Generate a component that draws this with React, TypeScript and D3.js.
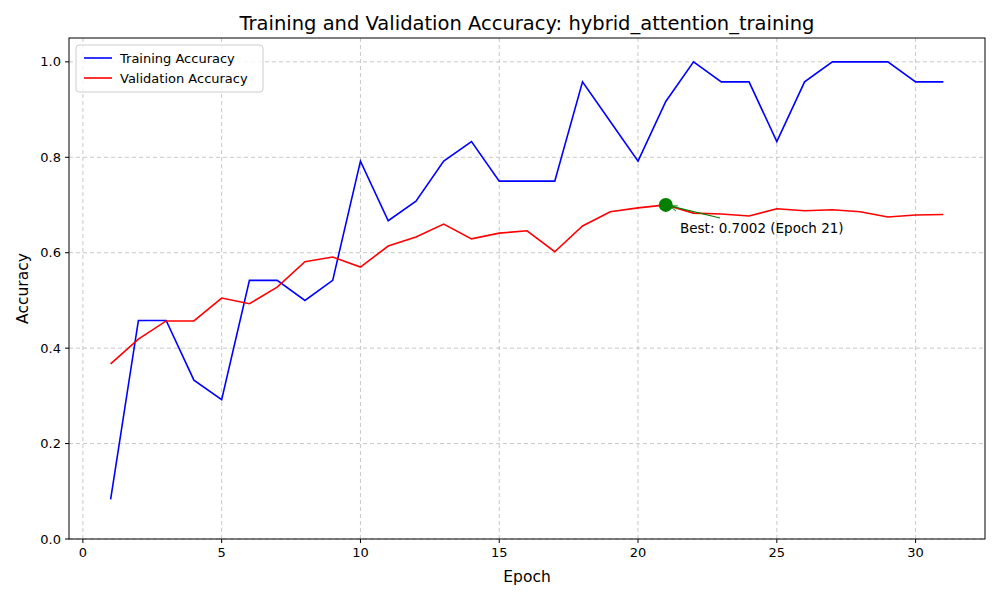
import React from "react";
import * as d3 from "d3";

const epochs = d3.range(1, 32);
const trainAcc = [0.083, 0.458, 0.458, 0.333, 0.292, 0.542, 0.542, 0.5, 0.542, 0.792, 0.667, 0.708, 0.792, 0.833, 0.75, 0.75, 0.75, 0.958, 0.875, 0.792, 0.917, 1.0, 0.958, 0.958, 0.833, 0.958, 1.0, 1.0, 1.0, 0.958, 0.958];
const valAcc = [0.367, 0.419, 0.457, 0.457, 0.505, 0.493, 0.528, 0.581, 0.591, 0.57, 0.614, 0.633, 0.66, 0.629, 0.641, 0.646, 0.602, 0.656, 0.686, 0.694, 0.7002, 0.683, 0.681, 0.677, 0.692, 0.688, 0.69, 0.686, 0.675, 0.679, 0.68];
const xTicks = [0, 5, 10, 15, 20, 25, 30];
const yTicks = [0, 0.2, 0.4, 0.6, 0.8, 1.0];

export default function App() {
  const W = 1000, H = 600;
  const m = { l: 69, r: 15, t: 38, b: 61 };
  const x = d3.scaleLinear().domain([-0.5, 32.5]).range([m.l, W - m.r]);
  const y = d3.scaleLinear().domain([0, 1.05]).range([H - m.b, m.t]);
  const line = (vals: number[]) =>
    d3.line<number>().x((_, i) => x(epochs[i])).y((d) => y(d))(vals) || "";
  const bestI = valAcc.indexOf(d3.max(valAcc)!);
  const bx = x(epochs[bestI]), by = y(valAcc[bestI]);
  const font = "DejaVu Sans, sans-serif";
  return (
    <svg width={W} height={H} style={{ position: "absolute", left: 0, top: 0, fontFamily: font }}>
      <rect width={W} height={H} fill="#fff" />
      {xTicks.map((t) => (
        <g key={"x" + t}>
          <line x1={x(t)} x2={x(t)} y1={m.t} y2={H - m.b} stroke="#b0b0b0" strokeDasharray="4,3" strokeOpacity={0.7} />
          <line x1={x(t)} x2={x(t)} y1={H - m.b} y2={H - m.b + 4} stroke="#000" />
          <text x={x(t)} y={H - m.b + 18} textAnchor="middle" fontSize={13}>{t}</text>
        </g>
      ))}
      {yTicks.map((t) => (
        <g key={"y" + t}>
          <line x1={m.l} x2={W - m.r} y1={y(t)} y2={y(t)} stroke="#b0b0b0" strokeDasharray="4,3" strokeOpacity={0.7} />
          <line x1={m.l - 4} x2={m.l} y1={y(t)} y2={y(t)} stroke="#000" />
          <text x={m.l - 8} y={y(t) + 4.5} textAnchor="end" fontSize={13}>{t.toFixed(1)}</text>
        </g>
      ))}
      <path d={line(trainAcc)} fill="none" stroke="#0000ff" strokeWidth={1.6} />
      <path d={line(valAcc)} fill="none" stroke="#ff0000" strokeWidth={1.6} />
      <circle cx={bx} cy={by} r={7} fill="green" />
      <line x1={720} y1={218} x2={bx + 4} y2={by + 1} stroke="green" strokeWidth={1.2} />
      <path d={`M${bx + 4},${by + 1} l8,0 M${bx + 4},${by + 1} l6,5`} stroke="green" strokeWidth={1} fill="none" />
      <text x={680} y={233} fontSize={13.5}>Best: {valAcc[bestI].toFixed(4)} (Epoch {epochs[bestI]})</text>
      <rect x={m.l} y={m.t} width={W - m.l - m.r} height={H - m.t - m.b} fill="none" stroke="#000" />
      <text x={(m.l + W - m.r) / 2} y={30} textAnchor="middle" fontSize={19.5}>Training and Validation Accuracy: hybrid_attention_training</text>
      <text x={(m.l + W - m.r) / 2} y={582} textAnchor="middle" fontSize={15.5}>Epoch</text>
      <text transform={`translate(28,${(m.t + H - m.b) / 2}) rotate(-90)`} textAnchor="middle" fontSize={15.5}>Accuracy</text>
      <g transform="translate(76,45)">
        <rect width={187} height={47} rx={3} fill="#fff" fillOpacity={0.8} stroke="#ccc" />
        <line x1={8} x2={36} y1={13} y2={13} stroke="#0000ff" strokeWidth={1.6} />
        <text x={44} y={17.5} fontSize={13}>Training Accuracy</text>
        <line x1={8} x2={36} y1={33} y2={33} stroke="#ff0000" strokeWidth={1.6} />
        <text x={44} y={37.5} fontSize={13}>Validation Accuracy</text>
      </g>
    </svg>
  );
}
